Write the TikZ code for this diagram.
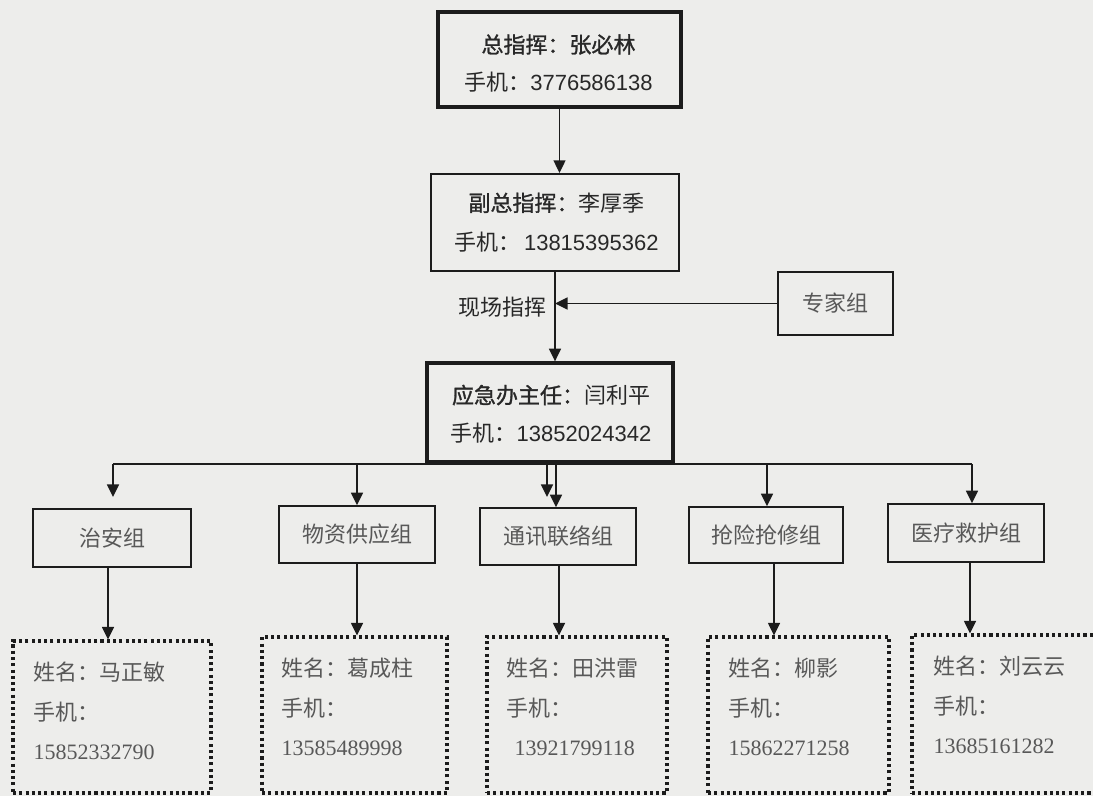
\documentclass[tikz,border=0pt]{standalone}
\usepackage{fontspec}
\newfontfamily\hei{Noto Sans CJK SC}
\newfontfamily\heib{Noto Sans CJK SC}[FakeBold=1.2]
\newfontfamily\numsans{Liberation Sans}
\newfontfamily\numsansb{Liberation Sans}[FakeBold=0.6]
\newfontfamily\numserif{Liberation Serif}
\usetikzlibrary{arrows.meta}
\definecolor{bg}{RGB}{237,237,235}
\definecolor{ink}{RGB}{28,28,28}
\definecolor{txt}{RGB}{40,40,40}
\definecolor{soft}{RGB}{88,88,88}
\begin{document}
\begin{tikzpicture}[x=0.75pt,y=-0.75pt,
  sz/.style 2 args={minimum width=#1*0.75pt,minimum height=#2*0.75pt,inner sep=0pt},
  headbox/.style={draw=ink,line width=2.5pt},
  midbox/.style={draw=ink,line width=1.6pt},
  headtxt/.style={inner sep=0pt,text=txt,align=center,
     font=\hei\fontsize{16.5}{28.5}\selectfont},
  grpbox/.style={draw=ink,line width=1.1pt,text=soft,
     font=\hei\fontsize{16.5}{20}\selectfont},
  dotbox/.style={draw=ink,line width=2.3pt,dash pattern=on 2.3pt off 2.4pt},
  lowtxt/.style={anchor=north west,inner sep=0pt,align=left,text=soft,
     font=\hei\fontsize{16.5}{29.6}\selectfont},
  conn/.style={draw=ink,line width=1.2pt},
  arr/.style={conn,-{Triangle[length=9.5pt,width=9pt]}}]
\clip (0,0) rectangle (1093,796);
\fill[bg] (0,0) rectangle (1093,796);

% top chain
\node[headbox,sz={243}{95}] (b1) at (559.5,59.5) {};
\node[headtxt] (b1t) at (558.5,63.5)
  {{\heib 总指挥：张必林}\\手机：{\numsans 3776586138}};
\node[midbox,sz={248}{97}] (b2) at (555,222.5) {};
\node[headtxt,font=\hei\fontsize{16.5}{29.5}\selectfont] (b2t) at (556.5,222.5)
  {{\heib 副总指挥：}李厚季\\手机：\,{\numsans 13815395362}};
\node[headbox,sz={246}{99}] (b3) at (550,412.5) {};
\node[headtxt] (b3t) at (551,414)
  {{\heib 应急办主任：}闫利平\\手机：{\numsans 13852024342}};
\node[grpbox,sz={115}{63}] (ex) at (835.5,303.5) {专家组};
\node[text=txt,inner sep=0pt,font=\hei\fontsize{16.5}{20}\selectfont] (lab) at (502,307) {现场指挥};

\draw[arr] (b1.south) -- (b1.south |- b2.north);
\draw[arr] (b2.south) -- (b2.south |- b3.north);
\draw[arr] (ex.west) -- (ex.west -| b2.south);

% groups
\node[grpbox,sz={158}{58}] (g1) at (112,538) {治安组};
\node[grpbox,sz={156}{57}] (g2) at (357,534.5) {物资供应组};
\node[grpbox,sz={156}{57}] (g3) at (558,536.5) {通讯联络组};
\node[grpbox,sz={154}{56}] (g4) at (766,535) {抢险抢修组};
\node[grpbox,sz={156}{58}] (g5) at (966,533) {医疗救护组};

\coordinate (k1) at (113,464);
\coordinate (k2) at (357,464);
\coordinate (k3) at (556,464);
\coordinate (k4) at (767,464);
\coordinate (k5) at (972,464);
\coordinate (g1in) at (113,497);
\coordinate (b3o) at (547,461);
\coordinate (g3in) at (547,497);
\draw[conn] (k1) -- (k5);
\draw[arr] (k1) -- (g1in);
\draw[arr] (k2) -- (k2 |- g2.north);
\draw[arr] (k3) -- (k3 |- g3.north);
\draw[arr] (k4) -- (k4 |- g4.north);
\draw[arr] (k5) -- (k5 |- g5.north);
\draw[arr] (b3o) -- (g3in);

% dotted boxes
\node[dotbox,sz={198}{152}] (d1) at (112,717) {};
\node[dotbox,sz={185}{156}] (d2) at (354.5,715) {};
\node[dotbox,sz={180}{156}] (d3) at (577,715) {};
\node[dotbox,sz={181}{156}] (d4) at (798.5,715) {};
\node[dotbox,sz={190}{158}] (d5) at (1007,714) {};

\node[lowtxt] (t1) at ([xshift=16.5pt,yshift=-17pt]d1.north west)
  {姓名：马正敏\\手机：\\{\numserif 15852332790}};
\node[lowtxt] (t2) at ([xshift=15.75pt,yshift=-17pt]d2.north west)
  {姓名：葛成柱\\手机：\\{\numserif 13585489998}};
\node[lowtxt] (t3) at ([xshift=15.75pt,yshift=-17pt]d3.north west)
  {姓名：田洪雷\\手机：\\\hspace{6pt}{\numserif 13921799118}};
\node[lowtxt] (t4) at ([xshift=16.5pt,yshift=-17pt]d4.north west)
  {姓名：柳影\\手机：\\{\numserif 15862271258}};
\node[lowtxt] (t5) at ([xshift=17.25pt,yshift=-17pt]d5.north west)
  {姓名：刘云云\\手机：\\{\numserif 13685161282}};

\draw[arr] ([xshift=-3pt]g1.south) -- ([xshift=-3pt]g1.south |- d1.north);
\draw[arr] (g2.south) -- (g2.south |- d2.north);
\draw[arr] ([xshift=0.75pt]g3.south) -- ([xshift=0.75pt]g3.south |- d3.north);
\draw[arr] ([xshift=6pt]g4.south) -- ([xshift=6pt]g4.south |- d4.north);
\draw[arr] ([xshift=3pt]g5.south) -- ([xshift=3pt]g5.south |- d5.north);
\end{tikzpicture}
\end{document}
